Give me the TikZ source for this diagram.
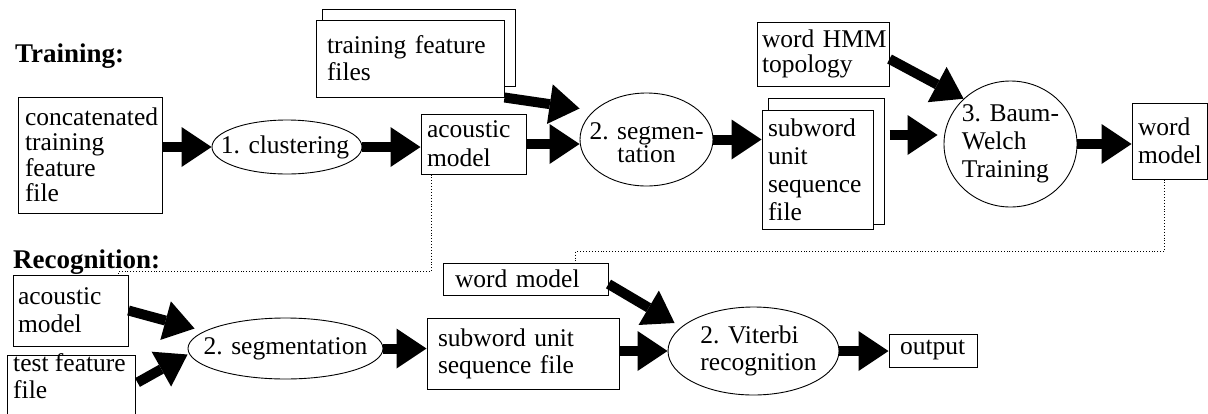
\documentclass[tikz,border=0pt]{standalone}
\usepackage{fontspec}
\setmainfont{Liberation Serif}
\usetikzlibrary{arrows.meta,calc,shapes.geometric}
\newcommand{\fsz}[1]{\fontsize{25.5pt}{#1pt}\selectfont\lineskiplimit=-100pt\hyphenpenalty=10000\exhyphenpenalty=10000\relax}
\begin{document}
\begin{tikzpicture}[x=1pt,y=-1pt,
  box/.style={draw, line width=1pt, fill=white, inner ysep=0pt, align=left},
  oval/.style={draw, ellipse, line width=0.9pt, inner sep=0pt},
  txt/.style={inner sep=0pt, align=#1},
  txt/.default=center,
  head/.style={anchor=base west, inner sep=0pt, font=\bfseries\fontsize{27pt}{28pt}\selectfont},
  big/.style={line width=10pt, -{Triangle[length=30pt,width=40pt,line width=0pt]}},
  dots/.style={dotted, line width=0.9pt}
]
\useasboundingbox (0,0) rectangle (1208,413);
\clip (0,0) rectangle (1208,413);

% ---------- Training ----------
\node[head] (htrain) at (15,62) {Training:};
\node[box, font=\fsz{25.5}, text width=134pt, inner xsep=5pt, minimum height=116pt] (concat) at (90,155) {\hspace*{2pt}concatenated\\\hspace*{2pt}training\\\hspace*{2pt}feature\\\hspace*{2pt}file};
\node[oval, minimum width=150pt, minimum height=54pt] (clust) at (287,147) {};
\node[txt, font=\fsz{28}] (clustT) at ($(clust)+(-2,0)$) {1. clustering};
\node[box, font=\fsz{29}, text width=93pt, inner xsep=6pt, minimum height=60pt] (amT) at (473.5,144) {acoustic\\model};

\node[box, minimum width=193pt, minimum height=77pt] (tffB) at (418.5,47.5) {};
\node[box, font=\fsz{27}, text width=166pt, inner xsep=11pt, minimum height=77pt] (tff) at (410,58.5) {training~feature\\files};

\node[oval, minimum width=133pt, minimum height=93pt] (seg) at (646.5,139.5) {};
\node[txt, font=\fsz{23}] (segT) at ($(seg)+(0,3)$) {2. segmen-\\tation};

\node[box, font=\fsz{25}, text width=122pt, inner xsep=5pt, minimum height=64pt] (hmm) at (823,54) {word~HMM\\topology};

\node[box, minimum width=116pt, minimum height=126pt] (subB) at (826,161) {};
\node[box, font=\fsz{28}, text width=99pt, inner xsep=6pt, minimum height=119pt] (sub) at (817.5,169.5) {subword\\unit\\sequence\\file};

\node[oval, minimum width=133pt, minimum height=126pt] (bw) at (1010.5,144) {};
\node[txt=left, font=\fsz{28}] (bwT) at (bw) {3. Baum-\\Welch\\Training};

\node[box, font=\fsz{28}, text width=63pt, inner xsep=6pt, minimum height=76pt] (wmT) at (1169.5,141) {word\\model};

% ---------- Recognition ----------
\node[head] (hrec) at (13,268) {Recognition:};
\node[box, font=\fsz{28}, text width=105pt, inner xsep=5pt, minimum height=71pt] (amR) at (70.5,310.5) {acoustic\\model};
\node[box, minimum width=128pt, minimum height=90pt] (tf) at (71,400) {};
\node[txt=left, font=\fsz{27}, anchor=north west] (tfT) at (13,353) {test~feature\\file};

\node[oval, minimum width=195pt, minimum height=61pt] (segR) at (285.5,348.5) {};
\node[txt, font=\fsz{28}] (segRT) at (segR) {2. segmentation};

\node[box, font=\fsz{28}, text width=141pt, inner xsep=12pt, minimum height=32pt] (wmR) at (525.5,279) {word~model};
\node[box, font=\fsz{27}, text width=170pt, inner xsep=11pt, minimum height=71pt] (subR) at (523,353.5) {subword~unit\\sequence~file};

\node[oval, minimum width=171pt, minimum height=88pt] (vit) at (753.5,351) {};
\node[txt=left, font=\fsz{27}] (vitT) at ($(vit)+(5,0)$) {2. Viterbi\\recognition};

\node[box, font=\fsz{28}, text width=66pt, inner xsep=11pt, minimum height=33pt] (out) at (933,350.5) {output};

% ---------- dotted links ----------
\draw[dots] ($(amT.south west)+(11,0)$) |- ($(amR.north east)+(-10,-3)$) -- ($(amR.north east)+(-10,0)$);
\draw[dots] ($(wmT.south west)+(33,0)$) |- ($(wmR.north west)+(133,-11)$) -- ($(wmR.north west)+(133,0)$);

% ---------- thick arrows ----------
\draw[big] (concat.east |- clust.west) -- (clust.west);
\draw[big] (clust.east) -- (clust.east -| amT.west);
\draw[big] (amT.east) -- (amT.east -| seg.west);
\draw[big] (tff.south east) -- ($(seg.west)+(0,-31)$);
\draw[big] (seg.east) -- (seg.east -| sub.west);
\draw[big] ($(subB.east)+(5,-26)$) -- ($(bw.west)+(-6,-9)$);
\draw[big] ($(hmm.east)+(0,5)$) -- (bw.136);
\draw[big] (bw.east) -- (bw.east -| wmT.west);

\draw[big] (amR.east) -- ($(segR.west)+(7,-20)$);
\draw[big] ($(tf.north east)+(2,28)$) -- ($(segR.west)+(0,6)$);
\draw[big] (segR.east) -- (segR.east -| subR.west);
\draw[big] (vit.west -| subR.east) -- (vit.west);
\draw[big] ($(wmR.east)+(0,5)$) -- ($(vit.west)+(7,-28)$);
\draw[big] (vit.east) -- (vit.east -| out.west);
\end{tikzpicture}
\end{document}
